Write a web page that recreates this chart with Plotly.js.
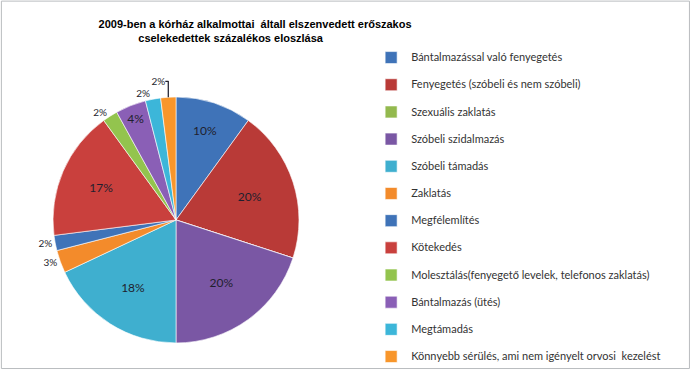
<!DOCTYPE html>
<html>
<head>
<meta charset="utf-8">
<script src="https://cdn.plot.ly/plotly-3.0.1.min.js"></script>
<style>html,body{margin:0;padding:0;background:#fff;}#chart{width:695px;height:370px;}</style>
</head>
<body>
<div id="chart"></div>
<script>
var categories = [
  "Bántalmazással való fenyegetés",
  "Fenyegetés (szóbeli és nem szóbeli)",
  "Szexuális zaklatás",
  "Szóbeli szidalmazás",
  "Szóbeli támadás",
  "Zaklatás",
  "Megfélemlítés",
  "Kötekedés",
  "Molesztálás(fenyegető levelek, telefonos zaklatás)",
  "Bántalmazás (ütés)",
  "Megtámadás",
  "Könnyebb sérülés, ami nem igényelt orvosi  kezelést"
];
var percentages = [10, 20, 0, 20, 18, 3, 2, 17, 2, 4, 2, 2];
var sliceColors = ["#3f73b8", "#b93a37", "#93b94e", "#7a57a4", "#3fafcf", "#f38b2b",
                   "#3f73b8", "#c9403d", "#93c44e", "#8a5fb6", "#3cb6d9", "#f8962b"];
var labelPositions = ["inside", "inside", "none", "inside", "inside", "outside",
                      "outside", "inside", "outside", "inside", "outside", "outside"];

var legendLabels = categories.map(function (c) {
  return ' <br><span style="font-size:11px">' + c + '</span>';
});

var trace = {
  type: "pie",
  labels: legendLabels,
  values: percentages,
  sort: false,
  direction: "clockwise",
  rotation: 0,
  marker: { colors: sliceColors, line: { color: "rgba(255,255,255,0.6)", width: 1 } },
  texttemplate: "%{value}%",
  textposition: labelPositions,
  insidetextorientation: "horizontal",
  textfont: { family: "Lato, 'Open Sans', sans-serif", size: 12, color: "#1f1f2e" },
  outsidetextfont: { family: "Lato, 'Open Sans', sans-serif", size: 10, color: "#1f1f2e" },
  hoverinfo: "label+percent",
  domain: { x: [0.0763, 0.4302], y: [0.073, 0.738] },
  automargin: false
};

var layout = {
  width: 695,
  height: 370,
  margin: { l: 0, r: 0, t: 0, b: 0 },
  paper_bgcolor: "#ffffff",
  title: {
    text: "2009-ben a kórház alkalmottai  általl elszenvedett erőszakos<br>cselekedettek százalékos eloszlása" +
          "&nbsp;&nbsp;&nbsp;&nbsp;&nbsp;&nbsp;&nbsp;&nbsp;&nbsp;&nbsp;&nbsp;&nbsp;&nbsp;&nbsp;&nbsp;&nbsp;",
    font: { family: "'Liberation Sans', sans-serif", size: 11, color: "#000", weight: "bold" },
    x: 0.367, xanchor: "center", xref: "paper",
    y: 0.925, yanchor: "middle", yref: "container"
  },
  showlegend: true,
  legend: {
    x: 0.534, xanchor: "left",
    y: 0.911, yanchor: "top",
    valign: "bottom",
    font: { family: "Lato, 'Open Sans', sans-serif", size: 9.3, color: "#333" },
    bgcolor: "rgba(0,0,0,0)",
    traceorder: "normal"
  },
  shapes: [{
    type: "rect", xref: "paper", yref: "paper",
    x0: 0.002, x1: 0.992, y0: 0.004, y1: 0.997,
    line: { color: "#b9bcbf", width: 1 }
  }]
};

Plotly.newPlot("chart", [trace], layout, { displayModeBar: false, staticPlot: true });
</script>
</body>
</html>
